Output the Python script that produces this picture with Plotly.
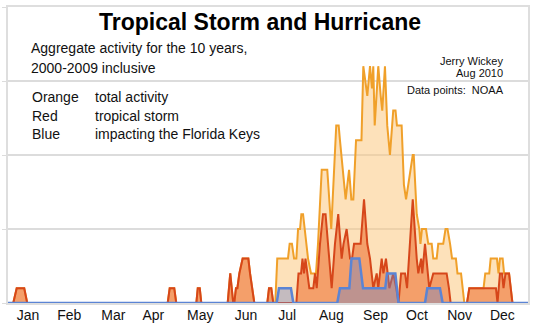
import plotly.graph_objects as go

# ---- data (day of year, aggregate count) ----
red_days = [0, 3.7, 6.1, 11.4, 13.5, 112.1, 113.5, 116.7, 118.1, 132.2, 133.2, 134.6, 135.7,
            154.2, 156.0, 158.1, 158.8, 160.0, 161.0, 162.4, 164.7, 168.7, 169.9, 171.5, 172.9,
            182.0, 183.2, 184.8, 186.2,
            202.4, 203.9, 205.7, 206.7, 207.8, 208.8, 211.5, 214.3, 215.5, 216.7, 219.0, 221.1, 222.9,
            225.5, 227.2, 229.5, 231.8, 234.2, 235.5, 237.7, 240.1, 241.5, 242.9, 247.5, 249.9, 252.2,
            254.1, 256.4, 258.8, 259.9, 262.3, 263.5, 265.3, 267.7, 270.4, 272.5, 274.1,
            275.9, 278.7, 280.1, 284.1, 286.9, 288.0, 290.0, 290.8, 292.7, 295.7, 298.5, 307.9, 309.5, 310.7,
            322.2, 323.8, 342.5, 343.6, 345.3, 346.8, 347.8, 349.2, 351.7, 354.1, 365]
red_vals = [0, 0, 1, 1, 0, 0, 1, 1, 0, 0, 1, 1, 0,
            0, 2, 0, 0, 1, 1, 2, 3, 3, 2, 1, 0,
            0, 1, 1, 0,
            0, 2, 2, 3, 2, 3, 1, 1, 2, 1, 4, 6, 6,
            3, 1, 4, 6, 3, 4, 5, 3, 3, 4, 4, 7, 4,
            3, 1, 2, 1, 3, 2, 3, 1, 2, 1, 0,
            2, 2, 1, 7, 3, 2, 3, 2, 4, 1, 2, 2, 1, 0,
            0, 1, 1, 0, 2, 2, 1, 2, 2, 0, 0]

orange_days = [0, 3.7, 6.1, 11.4, 13.5, 112.1, 113.5, 116.7, 118.1, 132.2, 133.2, 134.6, 135.7,
               154.2, 156.0, 158.1, 158.8, 160.0, 161.0, 162.4, 164.7, 168.7, 169.9, 171.5, 172.9,
               182.0, 183.2, 184.8, 186.2,
               187.6, 189.0, 196.5, 197.7, 199.3, 200.8, 202.4, 203.6, 205.0, 205.9, 207.1, 210.1, 210.6,
               212.7, 216.2, 217.6, 220.2, 224.1, 226.9, 230.4, 232.1, 233.0, 233.9, 237.0, 239.4, 241.0,
               242.4, 244.3, 248.1, 249.4, 252.2, 254.1, 255.5, 256.4, 257.4, 258.8, 259.9, 261.6, 262.7,
               264.6, 266.2, 268.1, 270.4, 272.0, 273.0, 276.3, 277.9, 279.4, 280.8, 282.2, 284.1, 284.8,
               286.9, 288.7, 289.5, 290.6, 293.4, 295.0, 297.4, 298.5, 300.9, 302.0, 305.5, 307.1, 308.5,
               310.3, 311.7, 314.4, 315.5, 318.0, 320.3, 322.2, 323.8, 333.8, 335.0, 337.8, 338.8, 343.2,
               344.3, 345.3, 347.2, 348.2, 349.2, 351.7, 354.1, 365]
orange_vals = [0, 0, 1, 1, 0, 0, 1, 1, 0, 0, 1, 1, 0,
               0, 2, 0, 0, 1, 1, 2, 3, 3, 2, 1, 0,
               0, 1, 1, 0,
               0, 3, 3, 4, 4, 3, 3, 5, 5, 6, 6, 3, 3,
               2, 2, 4, 9, 9, 5, 12, 12, 11, 10, 7, 9, 7,
               7, 11, 11, 16, 14, 16, 14.5, 16, 12, 14, 16, 14, 13,
               16, 12, 10, 13, 13, 12, 12, 8, 7, 8, 9, 10, 10,
               6, 5, 4, 5, 5, 4, 4, 3, 3, 4, 4, 5, 5,
               4, 3, 3, 2, 2, 0, 0, 1, 1, 2, 2, 3, 3,
               2, 3, 3, 2, 2, 2, 0, 0]

blue_days = [0, 188.6, 190.2, 198.6, 200.3, 231.1, 233.0, 239.6, 241.1, 246.6, 249.2, 264.8, 266.0,
             271.9, 274.1, 292.7, 294.3, 303.2, 305.1, 365]
blue_vals = [0, 0, 1, 1, 0, 0, 1, 1, 3, 3, 1, 1, 2,
             2, 0, 0, 1, 1, 0, 0]

month_ticks = [14, 43, 74, 102, 135, 167, 196, 227, 258, 287, 317, 347]
month_labels = ["Jan", "Feb", "Mar", "Apr", "May", "Jun", "Jul", "Aug", "Sep", "Oct", "Nov", "Dec"]

legend_names = ["Orange", "Red", "Blue"]
legend_desc = ["total activity", "tropical storm", "impacting the Florida Keys"]

FONT = "Liberation Sans, Arial, Helvetica, sans-serif"

fig = go.Figure()
fig.add_trace(go.Scatter(x=orange_days, y=orange_vals, mode="lines", fill="tozeroy",
                         line=dict(color="#f0a02a", width=2), fillcolor="rgba(252,200,130,0.55)",
                         hoverinfo="skip"))
fig.add_trace(go.Scatter(x=red_days, y=red_vals, mode="lines", fill="tozeroy",
                         line=dict(color="#d6461a", width=2), fillcolor="rgba(236,105,40,0.55)",
                         hoverinfo="skip"))
fig.add_trace(go.Scatter(x=blue_days, y=blue_vals, mode="lines", fill="tozeroy",
                         line=dict(color="#5b84d4", width=2.5), fillcolor="rgba(110,130,200,0.4)",
                         hoverinfo="skip"))

W, H = 537, 325
L, R, T, B = 8, 9, 7, 22
pw, ph = W - L - R, H - T - B


def px(x):
    return (x - L) / pw


def py(y):
    return (H - B - y) / ph


ann = []
ann.append(dict(text="<b>Tropical Storm and Hurricane</b>", x=px(259.5), y=py(22),
                xanchor="center", yanchor="middle", font=dict(size=23, color="#000")))
ann.append(dict(text="Aggregate activity for the 10 years,", x=px(29), y=py(48),
                xanchor="left", yanchor="middle", font=dict(size=14, color="#111")))
ann.append(dict(text="2000-2009 inclusive", x=px(29), y=py(68),
                xanchor="left", yanchor="middle", font=dict(size=14, color="#111")))
for i, (n, d) in enumerate(zip(legend_names, legend_desc)):
    yy = [97, 116, 133.5][i]
    ann.append(dict(text=n, x=px(30), y=py(yy), xanchor="left", yanchor="middle",
                    font=dict(size=14, color="#111")))
    ann.append(dict(text=d, x=px(93), y=py(yy), xanchor="left", yanchor="middle",
                    font=dict(size=14, color="#111")))
ann.append(dict(text="Jerry Wickey", x=px(505), y=py(61), xanchor="right", yanchor="middle",
                font=dict(size=11, color="#111")))
ann.append(dict(text="Aug 2010", x=px(505), y=py(73), xanchor="right", yanchor="middle",
                font=dict(size=11, color="#111")))
ann.append(dict(text="Data points:\u00a0\u00a0NOAA", x=px(506), y=py(90), xanchor="right",
                yanchor="middle", font=dict(size=11, color="#111")))
for a in ann:
    a.update(xref="paper", yref="paper", showarrow=False)

fig.update_layout(
    width=W, height=H, margin=dict(l=L, r=R, t=T, b=B, pad=0, autoexpand=False),
    paper_bgcolor="white", plot_bgcolor="white", showlegend=False,
    font=dict(family=FONT, color="#111"),
    annotations=ann,
    xaxis=dict(range=[0, 365], showgrid=False, zeroline=False, showline=True, mirror=True,
               linecolor="#dedede", linewidth=2, tickmode="array", tickvals=month_ticks,
               ticktext=month_labels, ticks="", tickfont=dict(size=14, color="#111"),
               ticklabelstandoff=-2, automargin=False),
    yaxis=dict(range=[0, 20], dtick=5, showgrid=True, gridcolor="#dcdcdc", gridwidth=1.5,
               zeroline=False, showline=True, mirror=True, linecolor="#dedede", linewidth=2,
               showticklabels=False, ticks="outside", ticklen=4, tickcolor="#dcdcdc",
               automargin=False),
)
fig.write_html("out.html")
